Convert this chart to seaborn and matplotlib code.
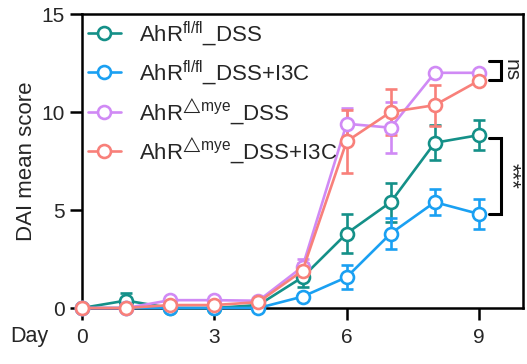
import numpy as np
import pandas as pd
import matplotlib
matplotlib.use("Agg")
import matplotlib.pyplot as plt
import seaborn as sns

days = [0, 1, 2, 3, 4, 5, 6, 7, 8, 9]
groups = ["AhR$^{\\mathregular{fl/fl}}$_DSS",
          "AhR$^{\\mathregular{fl/fl}}$_DSS+I3C",
          "AhR$^{\\mathregular{\u25B3mye}}$_DSS",
          "AhR$^{\\mathregular{\u25B3mye}}$_DSS+I3C"]
mean_flfl_dss = [0, 0.38, 0, 0, 0.15, 1.57, 3.8, 5.4, 8.43, 8.82]
sem_flfl_dss = [0, 0.4, 0, 0, 0.1, 0.5, 1.0, 1.0, 0.9, 0.75]
mean_flfl_i3c = [0, 0, 0, 0, 0, 0.58, 1.57, 3.8, 5.4, 4.8]
sem_flfl_i3c = [0, 0, 0, 0, 0, 0, 0.6, 0.77, 0.65, 0.78]
mean_mye_dss = [0, 0, 0.4, 0.4, 0.37, 2.1, 9.4, 9.2, 12.0, 12.0]
sem_mye_dss = [0, 0, 0, 0, 0, 0.4, 0.8, 1.3, 0, 0]
mean_mye_i3c = [0, 0, 0.15, 0.15, 0.3, 1.9, 8.5, 10.0, 10.35, 11.6]
sem_mye_i3c = [0, 0, 0, 0, 0, 0.4, 1.6, 1.15, 1.05, 0]
colors = ["#149088", "#1AA0F2", "#D08AF5", "#F8807A"]
y_ticks = [0, 5, 10, 15]
x_ticks = [0, 3, 6, 9]

means = [mean_flfl_dss, mean_flfl_i3c, mean_mye_dss, mean_mye_i3c]
sems = [sem_flfl_dss, sem_flfl_i3c, sem_mye_dss, sem_mye_i3c]

rows = []
for g, m, s in zip(groups, means, sems):
    for d, mv, sv in zip(days, m, s):
        rows.append({"Day": d, "Score": mv, "SEM": sv, "Group": g})
df = pd.DataFrame(rows)

sns.set_theme(style="ticks")
plt.rcParams["font.family"] = ["Liberation Sans", "DejaVu Sans"]
plt.rcParams["mathtext.fontset"] = "custom"
plt.rcParams["mathtext.rm"] = "Liberation Sans"
plt.rcParams["mathtext.it"] = "Liberation Sans:italic"
plt.rcParams["mathtext.bf"] = "Liberation Sans:bold"
plt.rcParams["mathtext.fallback"] = "stixsans"

fig = plt.figure(figsize=(5.27, 3.64), dpi=100)
ax = fig.add_axes([82 / 527, 1 - 308 / 364, (523 - 82) / 527, (308 - 14) / 364])

lw = 1.9
sns.lineplot(data=df, x="Day", y="Score", hue="Group", hue_order=groups,
             palette=colors, marker="o", markersize=9.3, markerfacecolor="white",
             markeredgewidth=lw, linewidth=lw, errorbar=None, ax=ax,
             clip_on=False, zorder=3)
for ln in ax.lines:
    ln.set_markeredgecolor(ln.get_color())
    ln.set_clip_on(False)

for g, c in zip(groups, colors):
    sub = df[df["Group"] == g]
    mask = sub["SEM"] > 0
    ax.errorbar(sub["Day"][mask], sub["Score"][mask], yerr=sub["SEM"][mask],
                fmt="none", ecolor=c, elinewidth=lw, capsize=4.5, capthick=lw,
                clip_on=False, zorder=2)

ax.set_xlim(0, 10)
ax.set_ylim(0, 15)
ax.set_xticks(x_ticks)
ax.set_yticks(y_ticks)
ax.tick_params(axis="both", length=8.5, width=1.8, labelsize=15, color="black")
ax.tick_params(axis="x", pad=6)
ax.tick_params(axis="y", pad=4)
for sp in ax.spines.values():
    sp.set_linewidth(1.8)
    sp.set_color("black")
    sp.set_visible(True)
ax.set_xlabel("")
ax.set_ylabel("DAI mean score", fontsize=16, labelpad=3)
ax.text(-0.12, -0.098, "Day", transform=ax.transAxes, fontsize=15.5,
        ha="center", va="center")

# significance brackets
bx0, bx1, tx = 9.22, 9.5, 9.72
ns_lo, ns_hi = mean_mye_i3c[9] + 0.05, mean_mye_dss[9] + 0.6
ax.plot([bx0, bx1, bx1, bx0], [ns_hi, ns_hi, ns_lo, ns_lo], color="black", lw=2.2,
        clip_on=False, solid_joinstyle="miter")
ax.text(tx, (ns_lo + ns_hi) / 2, "ns", rotation=270, fontsize=15, ha="center",
        va="center")
st_hi, st_lo = mean_flfl_dss[9] - 0.15, mean_flfl_i3c[9]
ax.plot([bx0, bx1, bx1, bx0], [st_hi, st_hi, st_lo, st_lo], color="black", lw=2.2,
        clip_on=False, solid_joinstyle="miter")
ax.text(tx, (st_lo + st_hi) / 2, "***", rotation=270, fontsize=16, ha="center",
        va="center")

leg = ax.legend(loc="upper left", frameon=False, fontsize=16, handlelength=1.5,
                handletextpad=0.8, labelspacing=0.45, borderaxespad=0.15,
                borderpad=0.1)
for h in leg.legend_handles:
    h.set_markerfacecolor("white")
    h.set_markeredgewidth(lw)
    h.set_markeredgecolor(h.get_color())

fig.savefig("out.png", dpi=100)
